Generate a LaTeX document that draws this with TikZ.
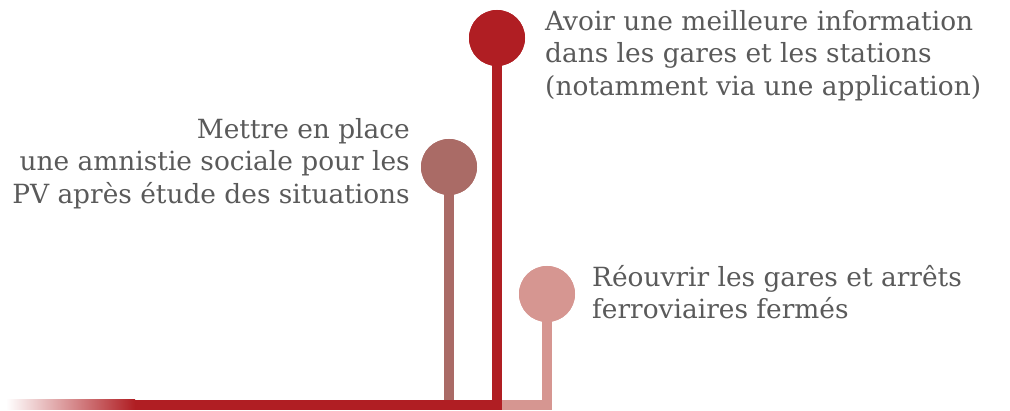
\documentclass[tikz,border=0pt]{standalone}
\usepackage{fontspec}
\setmainfont{DejaVu Serif}
\usetikzlibrary{positioning}
\definecolor{mainred}{HTML}{B01E23}
\definecolor{brownred}{HTML}{AA6B66}
\definecolor{pinkred}{HTML}{D69691}
\definecolor{fadeorange}{HTML}{D7957F}
\definecolor{notegray}{HTML}{5A5A5A}
\tikzset{
  dot/.style={circle,minimum size=56pt,inner sep=0pt},
  stem/.style={line width=10pt,line join=miter},
  note/.style={text=notegray,inner sep=0pt,font=\fontsize{26.4}{32.5}\selectfont}
}

\begin{document}
\begin{tikzpicture}[x=1pt,y=-1pt]
\useasboundingbox (0,0) rectangle (1010,411);
% dots
\node[dot,fill=mainred] (topdot) at (497,38) {};
\node[dot,fill=brownred] (middot) at (449,167) {};
\node[dot,fill=pinkred] (lowdot) at (547,294) {};
\coordinate (midfoot) at (449,400);
\coordinate (topcorner) at (497,405);
\coordinate (lowcorner) at (547,405);
\coordinate (fadeend) at (134,405);

% stems and base line
\draw[stem,brownred] (middot.center) -- (midfoot);
\draw[stem,pinkred] (lowdot.center) -- (lowcorner) -- (topcorner);
\draw[stem,mainred] (topdot.center) -- (topcorner) -- (fadeend);
\shade[left color=white,middle color=fadeorange,right color=mainred] (6,400) rectangle (135,410);
\node[dot,fill=mainred] at (topdot) {};
\node[dot,fill=brownred] at (middot) {};
\node[dot,fill=pinkred] at (lowdot) {};

% texts
\node[note,anchor=north west,align=left] (toptext) at (545,10)
  {Avoir une meilleure information\\dans les gares et les stations\\(notamment via une application)};
\node[note,anchor=north east,align=right] (midtext) at (410,118)
  {Mettre en place\\une amnistie sociale pour les\\PV après étude des situations};
\node[note,anchor=north west,align=left] (lowtext) at (592,265)
  {Réouvrir les gares et arrêts\\ferroviaires fermés};
\end{tikzpicture}
\end{document}
